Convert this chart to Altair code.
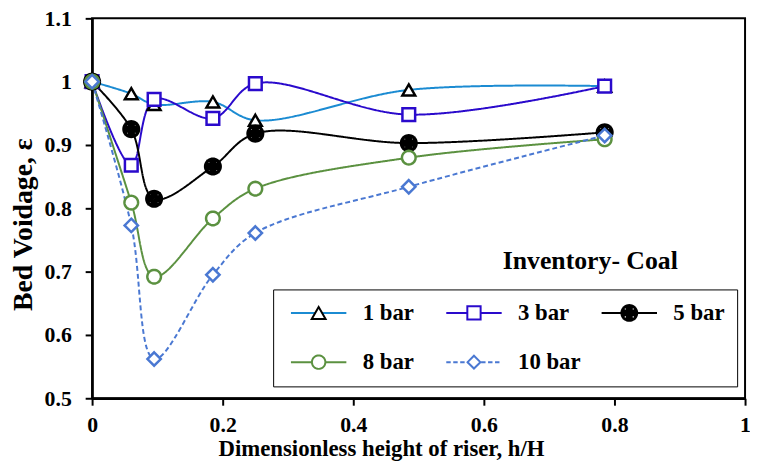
import math
import altair as alt
import pandas as pd

# ---------------- data ----------------
h_over_H = [0.0, 0.06, 0.095, 0.185, 0.25, 0.485, 0.785]
bar1 = [1.000, 0.981, 0.964, 0.968, 0.939, 0.987, 0.993]
bar3 = [1.000, 0.868, 0.972, 0.942, 0.997, 0.948, 0.993]
bar5 = [1.000, 0.925, 0.815, 0.866, 0.918, 0.903, 0.920]
bar8 = [1.000, 0.809, 0.692, 0.784, 0.831, 0.880, 0.909]
bar10 = [1.000, 0.773, 0.562, 0.695, 0.761, 0.834, 0.915]
series_names = ["1 bar", "3 bar", "5 bar", "8 bar", "10 bar"]
x_ticks = [0, 0.2, 0.4, 0.6, 0.8, 1.0]
y_ticks = [0.5, 0.6, 0.7, 0.8, 0.9, 1.0, 1.1]
annotation = ["Inventory- Coal"]
annotation_x = [0.763]
annotation_y = [0.716]

# ---------------- styles ----------------
line_colors = ["#1b8bd2", "#2a0acc", "#000000", "#5b9140", "#4a78d2"]
marker_colors = ["#000000", "#2a0acc", "#000000", "#5b9140", "#4a78d2"]
marker_fills = ["#ffffff", "#ffffff", "#000000", "#ffffff", "#ffffff"]
line_widths = [2, 2, 1.5, 2, 2]
line_dashes = [[1, 0], [1, 0], [1, 0], [1, 0], [5, 3]]
marker_sizes = [219, 278, 256, 354, 219]
marker_strokes = [2.5, 2.5, 0.6, 2, 1.5]
FONT = "Liberation Serif"


def poly(points):
    return "M" + "L".join(f"{x:.3f},{y:.3f}" for x, y in points) + "Z"


def circ(r, n=40):
    return poly([(r * math.cos(2 * math.pi * i / n), r * math.sin(2 * math.pi * i / n)) for i in range(n)])


def hole(cx, cy, d):
    # opposite winding -> hole under nonzero fill rule
    return poly([(cx - d, cy - d), (cx - d, cy + d), (cx + d, cy + d), (cx + d, cy - d)])


tri = poly([(0, -0.758), (0.875, 0.758), (-0.875, 0.758)])
sq = poly([(-0.84, -0.84), (0.84, -0.84), (0.84, 0.84), (-0.84, 0.84)])
dotted = circ(1.0) + "".join(hole(cx, cy, 0.2) for cx, cy in
                             [(0, 0), (0.5, 0.5), (-0.5, 0.5), (0.5, -0.5), (-0.5, -0.5)])
ring = circ(0.85)
dia = poly([(0, -0.81), (0.81, 0), (0, 0.81), (-0.81, 0)])
marker_paths = [tri, sq, dotted, ring, dia]

solid_seg = "M-3.5,0L3.5,0"
segs = []
s = -3.5
while s < 3.5:
    e = min(s + 0.56, 3.5)
    segs.append(f"M{s:.3f},0L{e:.3f},0")
    s = e + 0.32
dashed_seg = "".join(segs)
legend_line_paths = [solid_seg, solid_seg, solid_seg, solid_seg, dashed_seg]

rows = []
for name, vals in zip(series_names, [bar1, bar3, bar5, bar8, bar10]):
    for k, (xv, yv) in enumerate(zip(h_over_H, vals)):
        rows.append({"series": name, "x": xv, "y": yv, "k": k})
df = pd.DataFrame(rows)


def sc(rng):
    return alt.Scale(domain=series_names, range=rng)


X = alt.X("x:Q", scale=alt.Scale(domain=[0, 1], nice=False, zero=False),
          axis=alt.Axis(values=x_ticks, format="~g", title="Dimensionless height of riser, h/H",
                        grid=False, domainColor="black", domainWidth=2.5, tickColor="black",
                        tickWidth=2, tickSize=7, labelFont=FONT, labelFontSize=22,
                        labelFontWeight="bold", labelColor="black", labelPadding=10,
                        titleFont=FONT, titleFontSize=23, titleFontWeight="bold",
                        titleColor="black", titleX=292, titleY=40, titleBaseline="top",
                        labelFlush=False))
Y = alt.Y("y:Q", scale=alt.Scale(domain=[0.5, 1.1], nice=False, zero=False),
          axis=alt.Axis(values=y_ticks, format="~g", title="Bed Voidage, ε",
                        grid=False, domainColor="black", domainWidth=2.5, tickColor="black",
                        tickWidth=2, tickSize=7, labelFont=FONT, labelFontSize=22,
                        labelFontWeight="bold", labelColor="black", labelPadding=14,
                        titleFont=FONT, titleFontSize=28, titleFontWeight="bold",
                        titleColor="black", titleX=-61, titleY=208, titleBaseline="alphabetic",
                        labelFlush=False))

base = alt.Chart(df)

lines = base.mark_line(interpolate="catmull-rom").encode(
    x=X, y=Y,
    stroke=alt.Stroke("series:N", scale=sc(line_colors), legend=None),
    strokeDash=alt.StrokeDash("series:N", scale=sc(line_dashes), legend=None),
    strokeWidth=alt.StrokeWidth("series:N", scale=sc(line_widths), legend=None),
    order=alt.Order("k:Q"),
)

points = base.mark_point(filled=True, opacity=1).encode(
    x=X, y=Y,
    shape=alt.Shape("series:N", scale=sc(marker_paths), legend=None),
    stroke=alt.Stroke("series:N", scale=sc(marker_colors), legend=None),
    fill=alt.Fill("series:N", scale=sc(marker_fills), legend=None),
    size=alt.Size("series:N", scale=sc(marker_sizes), legend=None),
    strokeWidth=alt.StrokeWidth("series:N", scale=sc(marker_strokes), legend=None),
)

text = alt.Chart(pd.DataFrame({"t": annotation, "x": annotation_x, "y": annotation_y})).mark_text(
    font=FONT, fontSize=26, fontWeight="bold", color="black", align="center", baseline="middle"
).encode(x="x:Q", y="y:Q", text="t:N")

leg_common = dict(orient="none", legendX=183, legendY=274, columns=3, direction="horizontal",
                  title=None, symbolSize=256, symbolOffset=22.5, labelOffset=33, labelFont=FONT,
                  labelFontSize=23, labelFontWeight="bold", labelColor="black",
                  gridAlign="all", columnPadding=15, rowPadding=26, padding=12,
                  symbolOpacity=1, labelLimit=300, symbolStrokeWidth=2)
legend_lines = alt.Legend(**leg_common, strokeColor="black", fillColor="white")
legend_marks = alt.Legend(**leg_common, labelOpacity=0)

carrier_lines = base.mark_point(opacity=0).encode(
    x=X, y=Y,
    shape=alt.Shape("series:N", scale=sc(legend_line_paths), legend=legend_lines),
    stroke=alt.Stroke("series:N", scale=sc(line_colors), legend=legend_lines),
)

carrier_marks = base.mark_point(opacity=0, filled=True).encode(
    x=X, y=Y,
    shape=alt.Shape("series:N", scale=sc(marker_paths), legend=legend_marks),
    stroke=alt.Stroke("series:N", scale=sc(marker_colors), legend=legend_marks),
    fill=alt.Fill("series:N", scale=sc(marker_fills), legend=legend_marks),
)

chart = alt.layer(lines, points, text, carrier_lines, carrier_marks).resolve_scale(
    stroke="independent", shape="independent", fill="independent", size="independent",
    strokeWidth="independent", strokeDash="independent",
).properties(
    width=660, height=384,
    autosize=alt.AutoSizeParams(type="none"),
    padding={"left": 85, "top": 8, "right": 5, "bottom": 66},
).configure_view(stroke="black", strokeWidth=2)

chart.save("out.html", embed_options={"renderer": "svg", "actions": False})
